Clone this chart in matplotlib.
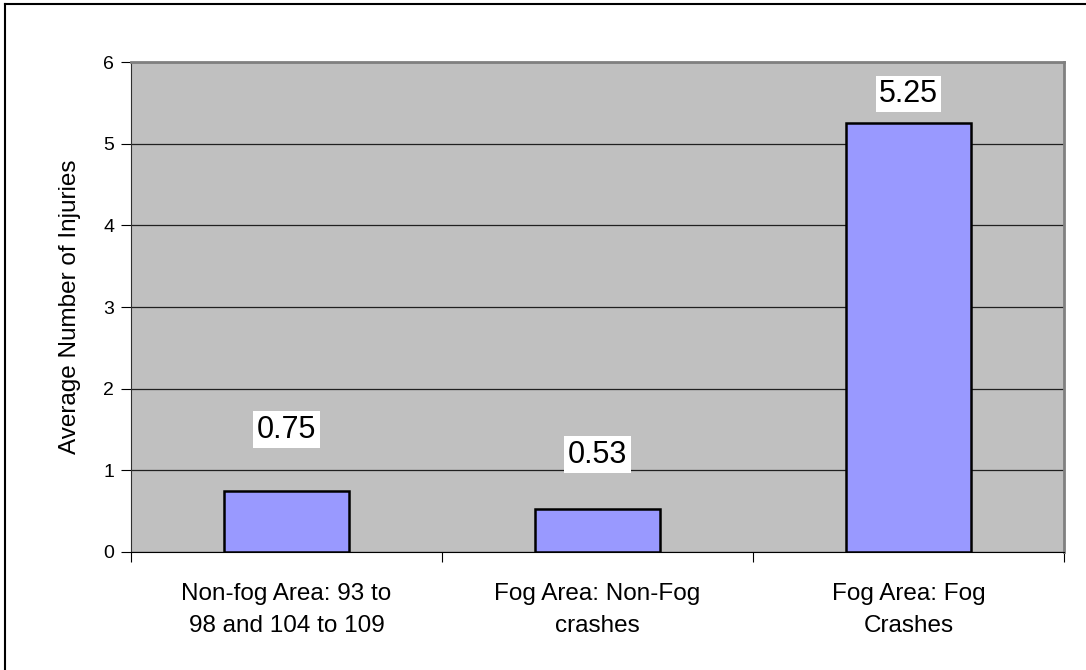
import matplotlib.pyplot as plt
from matplotlib.lines import Line2D

categories = ["Non-fog Area: 93 to\n98 and 104 to 109", "Fog Area: Non-Fog\ncrashes", "Fog Area: Fog\nCrashes"]
values = [0.75, 0.53, 5.25]
label_offsets = [44, 39, 21]  # points above bar top for the value boxes
y_ticks = [0, 1, 2, 3, 4, 5, 6]

plt.rcParams["font.family"] = ["Liberation Sans", "DejaVu Sans"]

fig = plt.figure(figsize=(10.86, 6.7), dpi=100)
ax = fig.add_axes([131 / 1086, 118 / 670, 933 / 1086, 490 / 670])
ax.set_facecolor("#C0C0C0")

x = range(len(categories))
bars = ax.bar(x, values, width=0.4, color="#9999FF", edgecolor="black", linewidth=1.8, zorder=3)

for b, v, off in zip(bars, values, label_offsets):
    ax.annotate(f"{v:.2f}", (b.get_x() + b.get_width() / 2, v), xytext=(0, off),
                textcoords="offset points", ha="center", va="center", fontsize=22,
                bbox=dict(facecolor="white", edgecolor="none", pad=2.5), zorder=4)

ax.set_xlim(-0.5, len(categories) - 0.5)
ax.set_ylim(0, 6)
ax.set_yticks(y_ticks)
ax.tick_params(axis="y", labelsize=14, length=7, direction="out", pad=5)
ax.yaxis.grid(True, color="#202020", linewidth=0.9, zorder=1)

# category boundaries get tick marks, labels sit between them
ax.set_xticks([i - 0.5 for i in range(len(categories) + 1)])
ax.set_xticklabels([])
ax.set_xticks(list(x), minor=True)
ax.set_xticklabels(categories, minor=True, fontsize=17.5, linespacing=1.6)
ax.tick_params(axis="x", which="major", length=7, direction="out")
ax.tick_params(axis="x", which="minor", length=0, pad=22)

ax.set_ylabel("Average Number of Injuries", fontsize=17.5, labelpad=16)

ax.spines["left"].set_color("#303030")
ax.spines["bottom"].set_color("black")
for s in ["top", "right"]:
    ax.spines[s].set_color("#808080")
    ax.spines[s].set_linewidth(2)

# frame around the chart (only top and left visible in the crop)
fig.add_artist(Line2D([4.5 / 1086, 1], [1 - 3.5 / 670, 1 - 3.5 / 670], color="black", linewidth=1.5))
fig.add_artist(Line2D([4.5 / 1086, 4.5 / 1086], [0, 1 - 3.5 / 670], color="black", linewidth=1.5))

fig.savefig("out.png", dpi=100)
